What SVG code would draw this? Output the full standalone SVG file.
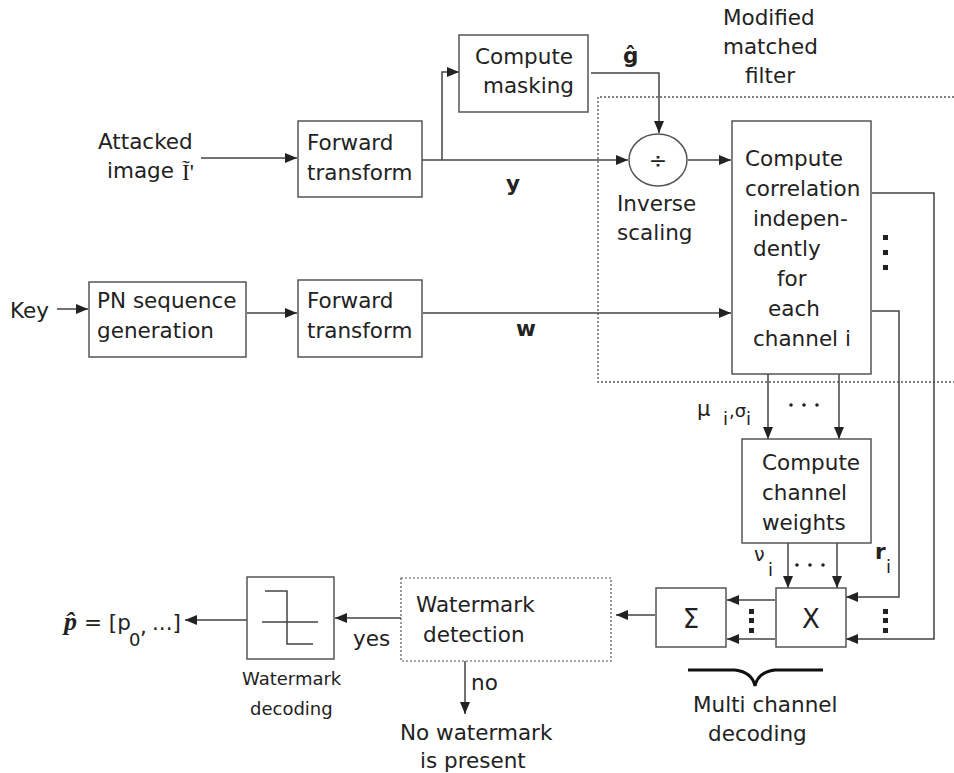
<svg xmlns="http://www.w3.org/2000/svg" width="954" height="773" viewBox="0 0 954 773">
<style>
text{font-family:"DejaVu Sans",Verdana,sans-serif;font-size:21.5px;fill:#222}
.b{fill:#fff;stroke:#555;stroke-width:1.5}
.l{fill:none;stroke:#444;stroke-width:1.5}
.a{fill:none;stroke:#444;stroke-width:1.5;marker-end:url(#ah)}
.d{fill:none;stroke:#555;stroke-width:1.3;stroke-dasharray:2 2}
.s{font-size:18px}
.bd{font-weight:bold}
.dot{fill:#222}
.sub{font-size:18px}
</style>
<defs>
<marker id="ah" viewBox="0 0 12 10" refX="12" refY="5" markerWidth="12" markerHeight="10" markerUnits="userSpaceOnUse" orient="auto">
<path d="M0,0 L12,5 L0,10 z" fill="#222"/>
</marker>
</defs>
<rect width="954" height="773" fill="#fff"/>

<g id="matched-filter-region">
<path class="d" d="M954,97 H598 V382 H954"/>
<text x="723" y="25">Modified</text>
<text x="723" y="54">matched</text>
<text x="745" y="83">filter</text>
</g>

<g id="connectors">
<path class="a" d="M201,158 H297"/>
<path class="l" d="M422,160 H600"/>
<path class="a" d="M600,160 H628"/>
<path class="a" d="M442,160 V72 H459"/>
<path class="a" d="M591,73 H659 V133"/>
<path class="a" d="M688,160 H731"/>
<path class="a" d="M57,309 H88"/>
<path class="a" d="M247,313 H297"/>
<path class="a" d="M423,313 H731"/>
<path class="a" d="M768,374 V439"/>
<path class="a" d="M839,374 V439"/>
<path class="a" d="M788,543 V588"/>
<path class="a" d="M837,543 V588"/>
<path class="a" d="M872,193 H934 V639 H846"/>
<path class="a" d="M872,311 H899 V597 H846"/>
<path class="a" d="M775,600 H727"/>
<path class="a" d="M775,639 H727"/>
<path class="a" d="M655,615 H616"/>
<path class="a" d="M401,618 H335"/>
<path class="a" d="M247,620 H185"/>
<path class="a" d="M465,661 V714"/>
</g>

<g id="attacked-image">
<text x="98" y="149">Attacked</text>
<text x="107" y="178">image</text>
<text x="182" y="180" style="font-family:'Liberation Serif',serif;font-size:23px">Ĩ'</text>
</g>

<g id="forward-transform-1">
<rect class="b" x="298" y="121" width="124" height="76"/>
<text x="307" y="150">Forward</text>
<text x="307" y="180">transform</text>
</g>

<g id="compute-masking">
<rect class="b" x="459" y="35" width="129" height="77"/>
<text x="475" y="64">Compute</text>
<text x="483" y="93">masking</text>
</g>

<g id="g-hat">
<text x="623" y="63" class="bd">ĝ</text>
</g>

<g id="inverse-scaling">
<ellipse class="b" cx="658" cy="160" rx="29" ry="26"/>
<text x="658" y="168" text-anchor="middle" style="font-size:22px">÷</text>
<text x="617" y="211">Inverse</text>
<text x="617" y="240">scaling</text>
</g>

<text x="506" y="191" class="bd">y</text>
<text x="516" y="336" class="bd">w</text>

<g id="compute-correlation">
<rect class="b" x="732" y="121" width="139" height="253"/>
<text x="745" y="166">Compute</text>
<text x="745" y="196">correlation</text>
<text x="753" y="226">indepen-</text>
<text x="753" y="256">dently</text>
<text x="777" y="286">for</text>
<text x="768" y="316">each</text>
<text x="753" y="346">channel i</text>
</g>

<g id="vdots-1" class="dot">
<rect x="883" y="235" width="5" height="5"/>
<rect x="883" y="250" width="5" height="5"/>
<rect x="883" y="265" width="5" height="5"/>
</g>

<g id="key">
<text x="10" y="318">Key</text>
</g>

<g id="pn-sequence">
<rect class="b" x="89" y="282" width="157" height="75"/>
<text x="97" y="308">PN sequence</text>
<text x="97" y="338">generation</text>
</g>

<g id="forward-transform-2">
<rect class="b" x="298" y="280" width="124" height="77"/>
<text x="307" y="308">Forward</text>
<text x="307" y="338">transform</text>
</g>

<g id="mu-sigma">
<text x="697" y="416" style="font-size:21px">μ</text>
<text x="723" y="425" class="sub">i</text>
<text x="729" y="417" class="sub">,σ</text>
<text x="746" y="425" class="sub">i</text>
<circle class="dot" cx="791" cy="405" r="1.8"/>
<circle class="dot" cx="804" cy="405" r="1.8"/>
<circle class="dot" cx="817" cy="405" r="1.8"/>
</g>

<g id="compute-channel-weights">
<rect class="b" x="742" y="439" width="129" height="104"/>
<text x="762" y="470">Compute</text>
<text x="762" y="500">channel</text>
<text x="762" y="530">weights</text>
</g>

<g id="nu-r">
<text x="754" y="561" style="font-size:19px">ν</text>
<text x="768" y="576" class="sub">i</text>
<circle class="dot" cx="797" cy="565" r="1.8"/>
<circle class="dot" cx="810" cy="565" r="1.8"/>
<circle class="dot" cx="823" cy="565" r="1.8"/>
<text x="875" y="559" class="bd">r</text>
<text x="886" y="573" class="sub">i</text>
</g>

<g id="multiply">
<rect class="b" x="776" y="588" width="70" height="59"/>
<text x="811" y="628" text-anchor="middle" style="font-size:26px">X</text>
</g>

<g id="sum">
<rect class="b" x="656" y="588" width="70" height="59"/>
<text x="691" y="628" text-anchor="middle" style="font-size:26px">Σ</text>
</g>

<g id="vdots-2" class="dot">
<rect x="749" y="609" width="5" height="5"/>
<rect x="749" y="618" width="5" height="5"/>
<rect x="749" y="628" width="5" height="5"/>
<rect x="883" y="609" width="5" height="5"/>
<rect x="883" y="618" width="5" height="5"/>
<rect x="883" y="628" width="5" height="5"/>
</g>

<g id="multi-channel-decoding">
<path d="M688,670 H735 Q752,672 755,686 Q758,672 775,670 H823" fill="none" stroke="#111" stroke-width="3"/>
<text x="693" y="712">Multi channel</text>
<text x="708" y="741">decoding</text>
</g>

<g id="watermark-detection">
<rect x="401" y="578" width="210" height="83" fill="#fff" stroke="#555" stroke-width="1.2" stroke-dasharray="2 2"/>
<text x="416" y="612">Watermark</text>
<text x="423" y="642">detection</text>
</g>

<text x="353" y="646">yes</text>
<text x="471" y="690">no</text>

<g id="no-watermark">
<text x="400" y="740">No watermark</text>
<text x="420" y="768">is present</text>
</g>

<g id="watermark-decoding">
<rect class="b" x="247" y="577" width="87" height="82"/>
<path class="l" d="M265,591 H287 V644 H313 M262,622 H318"/>
<text x="242" y="685" class="s">Watermark</text>
<text x="250" y="715" class="s">decoding</text>
</g>

<g id="p-hat">
<text x="64" y="630" style="font-family:'Liberation Serif',serif;font-size:26px;font-style:italic;font-weight:bold">p̂</text>
<text x="84" y="630">= [p</text>
<text x="129" y="646" class="sub">0</text>
<text x="140" y="634">,</text>
<text x="152" y="630">...]</text>
</g>
</svg>
